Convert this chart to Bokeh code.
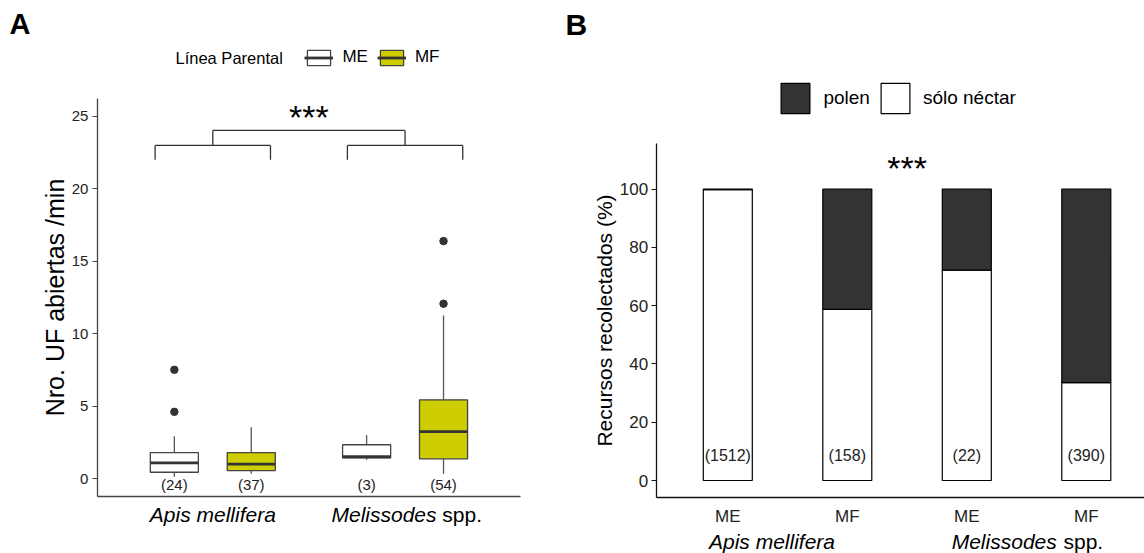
from bokeh.plotting import figure
from bokeh.layouts import row
from bokeh.models import ColumnDataSource, Range1d, FixedTicker, Legend, LegendItem
from bokeh.core.properties import value
from bokeh.embed import file_html
from bokeh.resources import INLINE

FONT = "Liberation Sans"

# ---------------- Panel A: flowers opened per minute (boxplots) ----------------
species = ["Apis mellifera", "Melissodes spp."]
lines = ["ME", "MF"]
box_species = [0, 0, 1, 1]
box_line = ["ME", "MF", "ME", "MF"]
n_obs = [24, 37, 3, 54]
whisker_low = [0.12, 0.33, 1.29, 0.32]
q1 = [0.43, 0.55, 1.43, 1.36]
median = [1.08, 0.99, 1.50, 3.24]
q3 = [1.79, 1.79, 2.33, 5.43]
whisker_high = [2.92, 3.54, 3.00, 11.25]
outliers = [[4.6, 7.5], [], [], [12.06, 16.38]]
line_fill = {"ME": "white", "MF": "#CDCD00"}
a_ticks = [0, 5, 10, 15, 20, 25]

# ---------------- Panel B: resources collected (stacked %) ----------------
bar_labels = ["ME", "MF", "ME", "MF"]
n_visits = [1512, 158, 22, 390]
nectar_pct = [99.8, 58.7, 72.2, 33.6]
pollen_pct = [100 - v for v in nectar_pct]
b_ticks = [0, 20, 40, 60, 80, 100]

# ---------------- page geometry (canvas pixels) ----------------
H = 553
A_W = 560
B_OFF, B_W = 560, 584

# panel A: x=1 at 212.3 px, 192.27 px per unit; y=0 at 478 px, 14.492 px per unit
def ax(px):
    return 1 + (px - 212.3) / 192.27


def ay(py):
    return (478.0 - py) / 14.492


# panel B: x=1 at 727.3 px, 119.5 px per unit; y=0 at 480 px, 2.915 px per unit
def bx(px):
    return 1 + (px - 727.3) / 119.5


def by(py):
    return (480.0 - py) / 2.915


def base_figure(w, xr, yr):
    p = figure(width=w, height=H, x_range=Range1d(*xr), y_range=Range1d(*yr),
               output_backend="svg", toolbar_location=None, title=None,
               min_border=0, min_border_left=0, min_border_right=0,
               min_border_top=0, min_border_bottom=0)
    p.xgrid.visible = False
    p.ygrid.visible = False
    p.outline_line_color = None
    p.background_fill_color = "white"
    return p


def style_axis(axis, color):
    axis.axis_line_color = color
    axis.axis_line_width = 1.3
    axis.major_tick_line_color = color
    axis.major_tick_line_width = 1.2
    axis.minor_tick_line_color = None
    axis.major_tick_in = 0
    axis.major_label_text_font = FONT
    axis.major_label_text_color = "#222222"
    axis.axis_label_text_font = FONT
    axis.axis_label_text_font_style = "normal"
    axis.axis_label_text_color = "black"


def text(p, x, y, t, size, align="left", style="normal", color="black"):
    p.text(x=[x], y=[y], text=[t], text_font=value(FONT), text_font_size=size,
           text_align=align, text_baseline="middle", text_font_style=style,
           text_color=color)


def legend(items, loc, gw, gh, standoff, spacing, size):
    return Legend(items=items, orientation="horizontal", location=loc,
                  glyph_width=gw, glyph_height=gh, label_standoff=standoff, spacing=spacing,
                  padding=0, margin=0, border_line_alpha=0, background_fill_alpha=0,
                  label_text_font=FONT, label_text_font_size=size,
                  label_text_color="black", label_height=gh)


# ======================= Panel A =======================
A_XLIM = (0.4, 2.6)
A_YLIM = (ay(496), ay(98))
pA = base_figure(A_W, (ax(0), ax(A_W)), (ay(H), ay(0)))

ya = pA.yaxis[0]
style_axis(ya, "#444444")
ya.fixed_location = A_XLIM[0]
ya.bounds = A_YLIM
ya.ticker = FixedTicker(ticks=a_ticks)
ya.major_tick_out = 5
ya.major_label_standoff = 4
ya.major_label_text_font_size = "15px"
ya.axis_label = "Nro. UF abiertas /min"
ya.axis_label_text_font_size = "25px"
ya.axis_label_standoff = 0

xa = pA.xaxis[0]
style_axis(xa, "#444444")
xa.fixed_location = A_YLIM[0]
xa.bounds = A_XLIM
xa.ticker = FixedTicker(ticks=[])
xa.major_tick_out = 0

BOX_W = 0.25
DODGE = {"ME": -0.2, "MF": 0.2}
legend_items = []
for ln in lines:
    idx = [i for i, l in enumerate(box_line) if l == ln]
    xs = [box_species[i] + 1 + DODGE[ln] for i in idx]
    src = ColumnDataSource(dict(
        x=xs,
        x0=[x - BOX_W / 2 for x in xs],
        x1=[x + BOX_W / 2 for x in xs],
        lo=[whisker_low[i] for i in idx],
        q1=[q1[i] for i in idx],
        med=[median[i] for i in idx],
        q3=[q3[i] for i in idx],
        hi=[whisker_high[i] for i in idx],
    ))
    pA.segment(x0="x", y0="q3", x1="x", y1="hi", source=src, line_color="#555555", line_width=1.3)
    pA.segment(x0="x", y0="lo", x1="x", y1="q1", source=src, line_color="#555555", line_width=1.3)
    box = pA.vbar(x="x", width=BOX_W, bottom="q1", top="q3", source=src,
                  fill_color=line_fill[ln], line_color="#444444", line_width=1.3)
    med = pA.segment(x0="x0", y0="med", x1="x1", y1="med", source=src,
                     line_color="#333333", line_width=2.8)
    legend_items.append(LegendItem(label=ln, renderers=[box, med]))

    ox, oy = [], []
    for i, x in zip(idx, xs):
        ox += [x] * len(outliers[i])
        oy += outliers[i]
    pA.scatter(ox, oy, size=7.5, color="#333333")

# sample sizes under each box
pA.text(x=[box_species[i] + 1 + DODGE[box_line[i]] for i in range(4)],
        y=[ay(483.5)] * 4, text=["(%d)" % n for n in n_obs],
        text_font=value(FONT), text_font_size="15px", text_align="center",
        text_baseline="middle", text_color="#222222")

# significance brackets between the two species
bracket_x0 = [0.7, 0.7, 1.3, 1.7, 1.7, 2.3, 1.0, 1.0, 2.0]
bracket_x1 = [1.3, 0.7, 1.3, 2.3, 1.7, 2.3, 2.0, 1.0, 2.0]
bracket_y0 = [22.98, 22.98, 22.98, 22.98, 22.98, 22.98, 24.02, 24.02, 24.02]
bracket_y1 = [22.98, 22.0, 22.0, 22.98, 22.0, 22.0, 24.02, 22.98, 22.98]
pA.segment(bracket_x0, bracket_y0, bracket_x1, bracket_y1, line_color="#333333", line_width=1.3)
text(pA, 1.5, ay(116.5), "***", "34px", align="center")

# species names below the axis
text(pA, 1.0, ay(514), species[0], "21px", align="center", style="italic")
text(pA, ax(331), ay(514), "Melissodes", "21px", style="italic")
text(pA, ax(441.8), ay(514), "spp.", "21px")

# panel letter and legend
text(pA, ax(9), ay(23.5), "A", "29px", style="bold")
text(pA, ax(175), ay(57), "Línea Parental", "16.5px")
pA.add_layout(legend(legend_items, (304.4, H - 67), 29, 19, 9, 9, "17px"))

# ======================= Panel B =======================
B_XLIM = (0.4, bx(B_OFF + B_W))
B_YLIM = (by(496.7), by(142.7))
pB = base_figure(B_W, (bx(B_OFF), bx(B_OFF + B_W)), (by(H), by(0)))

yb = pB.yaxis[0]
style_axis(yb, "#111111")
yb.fixed_location = B_XLIM[0]
yb.bounds = B_YLIM
yb.ticker = FixedTicker(ticks=b_ticks)
yb.major_tick_out = 5
yb.major_label_standoff = 3
yb.major_label_text_font_size = "17px"
yb.axis_label = "Recursos recolectados (%)"
yb.axis_label_text_font_size = "21px"
yb.axis_label_standoff = 1

xb = pB.xaxis[0]
style_axis(xb, "#111111")
xb.fixed_location = B_YLIM[0]
xb.bounds = B_XLIM
xb.ticker = FixedTicker(ticks=[1, 2, 3, 4])
xb.major_label_overrides = {i + 1: t for i, t in enumerate(bar_labels)}
xb.major_tick_out = 0
xb.major_label_standoff = 10
xb.major_label_text_font_size = "17px"

bxs = [1, 2, 3, 4]
bsrc = ColumnDataSource(dict(x=bxs, nectar=nectar_pct, pollen=pollen_pct, top=[100] * 4))
nectar_r = pB.vbar(x="x", width=0.41, bottom=0, top="nectar", source=bsrc,
                   fill_color="white", line_color="black", line_width=1.2)
pollen_r = pB.vbar(x="x", width=0.41, bottom="nectar", top="top", source=bsrc,
                   fill_color="#333333", line_color="black", line_width=1.2)

pB.text(x=bxs, y=[by(455)] * 4, text=["(%d)" % n for n in n_visits],
        text_font=value(FONT), text_font_size="16px", text_align="center",
        text_baseline="middle", text_color="#222222")
text(pB, 2.5, by(167.5), "***", "34px", align="center")

text(pB, bx(771.5), by(541), species[0], "21px", align="center", style="italic")
text(pB, bx(951.2), by(541), "Melissodes", "21px", style="italic")
text(pB, bx(1063), by(541), "spp.", "21px")

text(pB, bx(565), by(24), "B", "30px", style="bold")
pB.add_layout(legend([LegendItem(label="polen", renderers=[pollen_r]),
                      LegendItem(label="sólo néctar", renderers=[nectar_r])],
                     (777.4 - B_OFF, H - 116.7), 36, 38, 10, 7, "19px"))

layout = row(pA, pB)
open("out.html", "w").write(file_html(layout, INLINE))
